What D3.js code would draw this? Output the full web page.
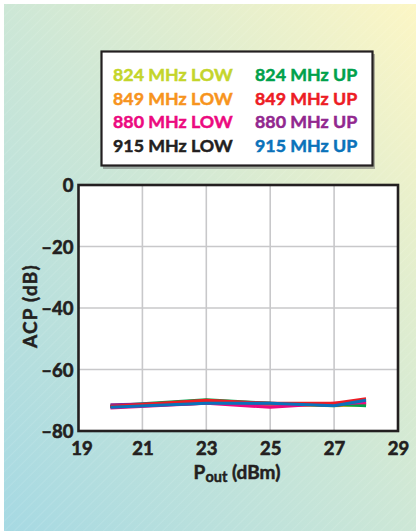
<!DOCTYPE html>
<html>
<head>
<meta charset="utf-8">
<script src="https://cdn.jsdelivr.net/npm/d3@7"></script>
<style>
html,body{margin:0;padding:0;background:#fff;}
svg{display:block;}
text{font-family:Lato,"Open Sans",sans-serif;font-weight:700;}
</style>
</head>
<body>
<svg id="chart" width="416" height="531"></svg>
<script>
// ---- data ----
const xValues = [20, 23, 25, 27, 28];
const seriesNames = ["824 MHz LOW","849 MHz LOW","880 MHz LOW","915 MHz LOW","824 MHz UP","849 MHz UP","880 MHz UP","915 MHz UP"];
const seriesColors = ["#c4d52b","#f7941d","#ec0a7f","#231f20","#00a14b","#ed1c24","#92278f","#0a72ba"];
const acp824Low = [-72.0, -70.8, -71.3, -71.8, -71.5];
const acp849Low = [-72.0, -70.5, -71.5, -71.7, -71.3];
const acp880Low = [-72.5, -71.0, -72.3, -71.0, -70.8];
const acp915Low = [-72.0, -71.0, -71.0, -71.6, -70.8];
const acp824Up  = [-71.8, -69.8, -71.0, -71.3, -71.8];
const acp849Up  = [-72.0, -70.0, -71.0, -71.0, -69.5];
const acp880Up  = [-71.5, -70.8, -71.2, -71.5, -70.5];
const acp915Up  = [-72.3, -71.0, -71.0, -71.8, -70.0];
const seriesValues = [acp824Low, acp849Low, acp880Low, acp915Low, acp824Up, acp849Up, acp880Up, acp915Up];
const xTicks = [19, 21, 23, 25, 27, 29];
const yTicks = [0, -20, -40, -60, -80];
const drawOrder = [0, 1, 3, 4, 6, 2, 5, 7];

const svg = d3.select("#chart");
const defs = svg.append("defs");

// background gradient
const grad = defs.append("linearGradient").attr("id","bg")
  .attr("x1","0%").attr("y1","100%").attr("x2","100%").attr("y2","0%");
grad.append("stop").attr("offset","0%").attr("stop-color","#a6d9e3");
grad.append("stop").attr("offset","50%").attr("stop-color","#cde7d6");
grad.append("stop").attr("offset","100%").attr("stop-color","#fcf6c5");
const pat = defs.append("pattern").attr("id","hatch").attr("width",7).attr("height",7)
  .attr("patternUnits","userSpaceOnUse").attr("patternTransform","rotate(45)");
pat.append("line").attr("x1",0).attr("y1",0).attr("x2",0).attr("y2",7)
  .attr("stroke","#ffffff").attr("stroke-opacity",0.2).attr("stroke-width",1);

svg.append("rect").attr("x",4).attr("y",4).attr("width",412).attr("height",527).attr("fill","url(#bg)");
svg.append("rect").attr("x",4).attr("y",4).attr("width",412).attr("height",527).attr("fill","url(#hatch)");

// scales
const x = d3.scaleLinear().domain([19, 29]).range([78.5, 398]);
const y = d3.scaleLinear().domain([0, -80]).range([185, 431]);

// plot background
svg.append("rect").attr("x",x(19)).attr("y",y(0)).attr("width",x(29)-x(19)).attr("height",y(-80)-y(0)).attr("fill","#fff");

// grid
const g = svg.append("g");
g.selectAll("line.gx").data(xTicks.slice(1,-1)).join("line")
  .attr("x1",d=>x(d)).attr("x2",d=>x(d)).attr("y1",y(0)).attr("y2",y(-80))
  .attr("stroke","#c8c8ca").attr("stroke-width",1.6);
g.selectAll("line.gy").data(yTicks.slice(1,-1)).join("line")
  .attr("y1",d=>y(d)).attr("y2",d=>y(d)).attr("x1",x(19)).attr("x2",x(29))
  .attr("stroke","#c8c8ca").attr("stroke-width",1.6);

// lines
const line = d3.line().x((d,i)=>x(xValues[i])).y(d=>y(d));
drawOrder.forEach(k=>{
  svg.append("path").datum(seriesValues[k]).attr("d",line)
    .attr("fill","none").attr("stroke",seriesColors[k]).attr("stroke-width",3)
    .attr("stroke-linejoin","round");
});

// frame
svg.append("rect").attr("x",x(19)).attr("y",y(0)).attr("width",x(29)-x(19)).attr("height",y(-80)-y(0))
  .attr("fill","none").attr("stroke","#231f20").attr("stroke-width",2.6);

// axes labels
const ink = "#231f20";
const fmt = d => d < 0 ? "\u2013" + Math.abs(d) : String(d);
const yAxis = d3.axisLeft(y).tickValues(yTicks).tickFormat(fmt).tickSize(0).tickPadding(5);
const ya = svg.append("g").attr("transform",`translate(${x(19)},0)`).call(yAxis);
ya.select(".domain").remove();
ya.selectAll("text").attr("font-size",18.5).attr("fill",ink).attr("stroke",ink).attr("stroke-width",0.6)
  .attr("font-family","Lato,sans-serif").attr("font-weight",700).attr("dy","0.36em");

const xAxis = d3.axisBottom(x).tickValues(xTicks).tickFormat(d=>d).tickSize(0).tickPadding(11);
const xa = svg.append("g").attr("transform",`translate(0,${y(-80)})`).call(xAxis);
xa.select(".domain").remove();
xa.selectAll("text").attr("font-size",18.5).attr("fill",ink).attr("stroke",ink).attr("stroke-width",0.6)
  .attr("font-family","Lato,sans-serif").attr("font-weight",700);
xa.selectAll(".tick").filter(d => d === 19).select("text").attr("dx", 3);

// axis titles
svg.append("text").attr("transform","translate(37,306) rotate(-90)").attr("text-anchor","middle")
  .attr("font-size",19).attr("letter-spacing",1.2).attr("fill",ink).attr("stroke",ink).attr("stroke-width",0.5).text("ACP (dB)");
const xt = svg.append("text").attr("x",237).attr("y",479).attr("text-anchor","middle")
  .attr("font-size",19).attr("fill",ink).attr("stroke",ink).attr("stroke-width",0.5);
xt.append("tspan").text("P");
xt.append("tspan").attr("font-size",14.5).attr("dy",3).text("out");
xt.append("tspan").attr("dy",-3).text(" (dBm)");

// legend
svg.append("rect").attr("x",103).attr("y",54).attr("width",272).attr("height",115).attr("fill","#6b6b6b").attr("opacity",0.5);
svg.append("rect").attr("x",101.5).attr("y",51.5).attr("width",271).attr("height",114).attr("fill","#fff")
  .attr("stroke",ink).attr("stroke-width",2.2);
const leg = svg.append("g");
leg.selectAll("text").data(seriesNames).join("text")
  .attr("x",(d,i)=> i < 4 ? 113 : 255)
  .attr("y",(d,i)=> 81 + (i % 4) * 23.7)
  .attr("font-size",17.8)
  .attr("fill",(d,i)=>seriesColors[i])
  .attr("stroke",(d,i)=>seriesColors[i]).attr("stroke-width",0.5)
  .text(d=>d);
</script>
</body>
</html>
